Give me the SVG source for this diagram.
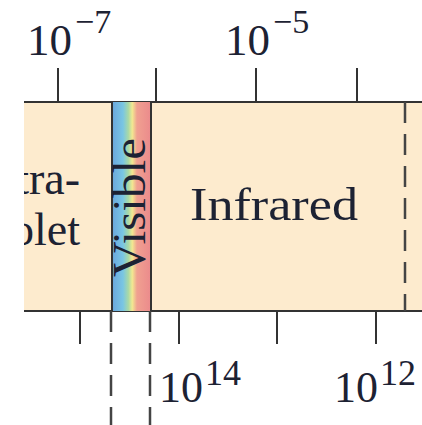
<svg xmlns="http://www.w3.org/2000/svg" width="422" height="425" viewBox="0 0 422 425">
<style>
.lbl{font-family:"Liberation Serif","Times New Roman",serif;fill:#1d2233}
.ln{stroke:#333;stroke-width:2;fill:none}
.dash{stroke:#444;stroke-width:2.5;fill:none;stroke-dasharray:21 11}
</style>
<defs>
<linearGradient id="rainbow" x1="0" y1="0" x2="1" y2="0">
<stop offset="0" stop-color="#6aa6dc"/>
<stop offset="0.28" stop-color="#79c6e4"/>
<stop offset="0.42" stop-color="#a9d9a6"/>
<stop offset="0.52" stop-color="#f2e891"/>
<stop offset="0.64" stop-color="#f0a090"/>
<stop offset="1" stop-color="#eb8a8c"/>
</linearGradient>
<clipPath id="bandclip"><rect x="24" y="102" width="398" height="209"/></clipPath>
</defs>
<g id="band">
<rect x="24" y="102" width="398" height="209" fill="#fdebce"/>
<line class="ln" x1="24" y1="102" x2="422" y2="102"/>
<line class="ln" x1="24" y1="311" x2="422" y2="311"/>
</g>
<g id="ultraviolet" clip-path="url(#bandclip)">
<text class="lbl" font-size="46" text-anchor="end" x="80" y="194">tra-</text>
<text class="lbl" font-size="46" text-anchor="end" x="80" y="245">olet</text>
</g>
<g id="visible">
<rect x="112" y="102" width="39" height="209" fill="url(#rainbow)"/>
<line class="ln" x1="112" y1="102" x2="112" y2="311" stroke-width="2.5"/>
<line class="ln" x1="151" y1="102" x2="151" y2="311" stroke-width="2.5"/>
<text class="lbl" font-size="46" text-anchor="middle" textLength="139" lengthAdjust="spacingAndGlyphs" transform="translate(145,207.5) rotate(-90)">Visible</text>
</g>
<g id="infrared">
<text class="lbl" font-size="46" x="190" y="220" textLength="168" lengthAdjust="spacingAndGlyphs">Infrared</text>
</g>
<g id="connectors">
<line class="ln" x1="58" y1="68" x2="58" y2="101"/>
<line class="ln" x1="156" y1="68" x2="156" y2="101"/>
<line class="ln" x1="256" y1="68" x2="256" y2="101"/>
<line class="ln" x1="357" y1="68" x2="357" y2="101"/>
<line class="ln" x1="80" y1="312" x2="80" y2="344"/>
<line class="ln" x1="179" y1="312" x2="179" y2="344"/>
<line class="ln" x1="277" y1="312" x2="277" y2="344"/>
<line class="ln" x1="376" y1="312" x2="376" y2="344"/>
<line class="dash" x1="405" y1="102" x2="405" y2="311"/>
<line class="dash" x1="111" y1="311" x2="111" y2="425"/>
<line class="dash" x1="150" y1="311" x2="150" y2="425"/>
</g>
<g id="scale-labels">
<text class="lbl" font-size="45" y="55"><tspan x="27">10</tspan><tspan x="75" y="33" font-size="34">−7</tspan></text>
<text class="lbl" font-size="45" y="55"><tspan x="225">10</tspan><tspan x="273" y="33" font-size="34">−5</tspan></text>
<text class="lbl" font-size="44" y="402"><tspan x="159">10</tspan><tspan x="205" y="385" font-size="36">14</tspan></text>
<text class="lbl" font-size="44" y="402"><tspan x="334">10</tspan><tspan x="380" y="385" font-size="36">12</tspan></text>
</g>
</svg>
